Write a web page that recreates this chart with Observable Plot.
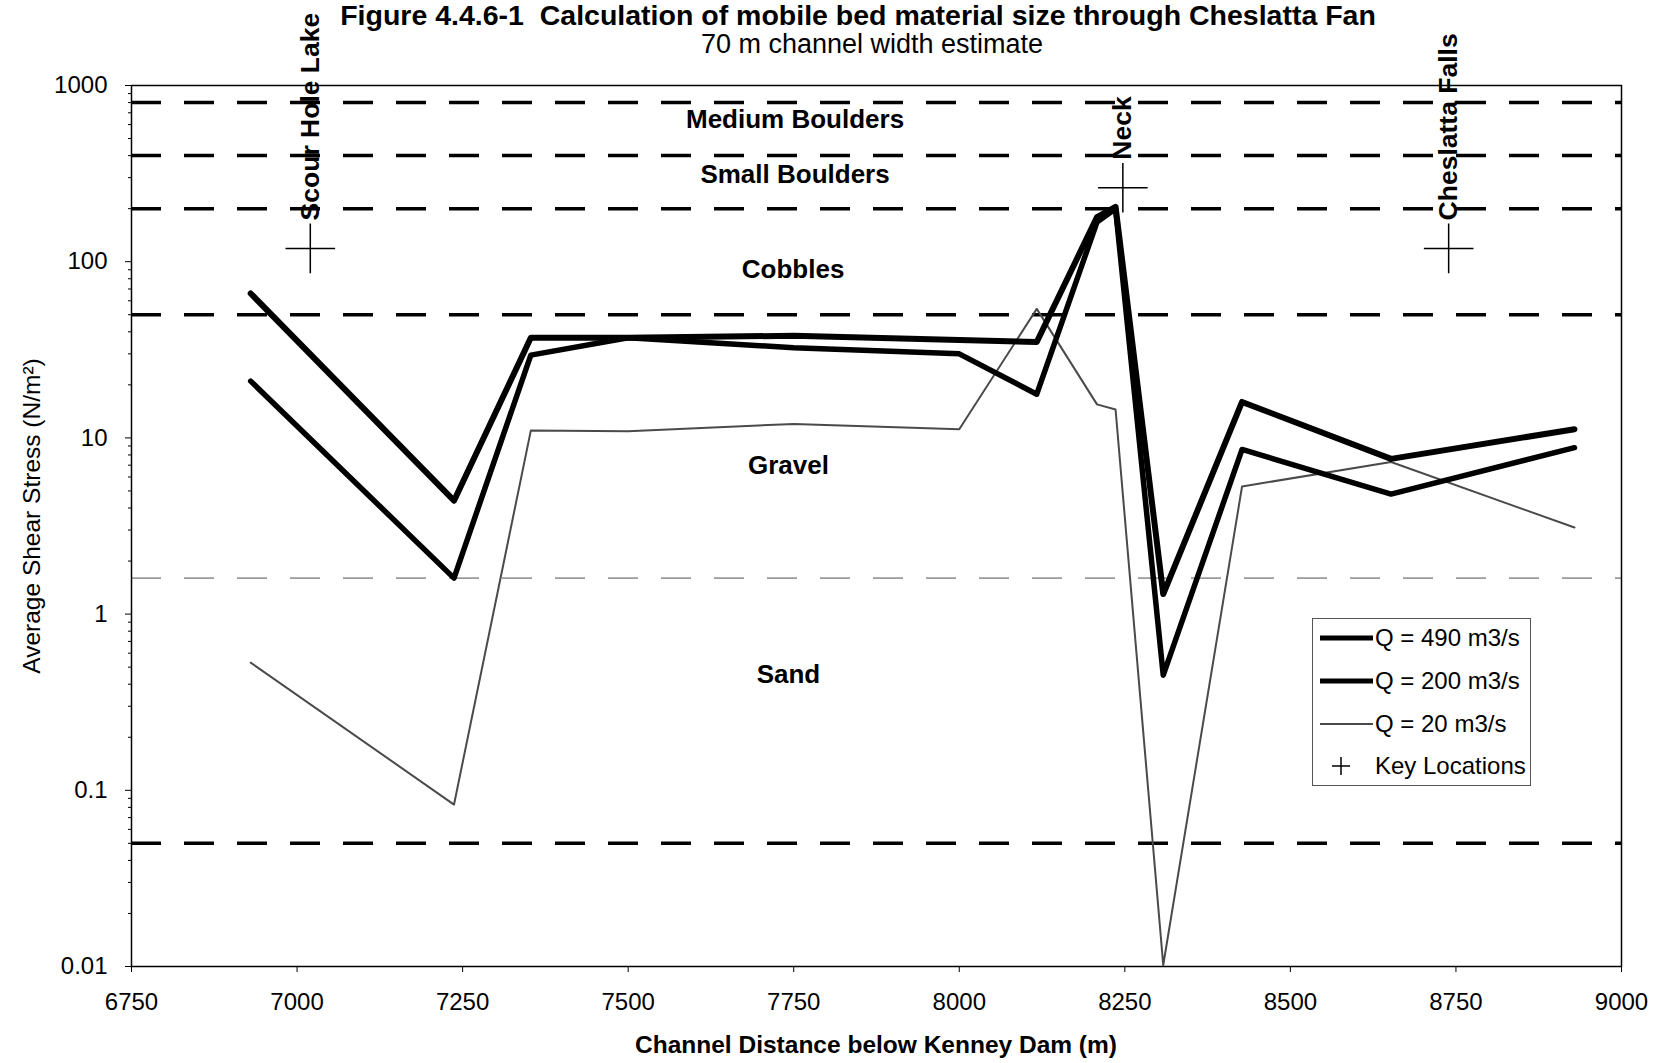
<!DOCTYPE html>
<html>
<head>
<meta charset="utf-8">
<script src="https://cdn.jsdelivr.net/npm/d3@7"></script>
<script src="https://cdn.jsdelivr.net/npm/@observablehq/plot@0.6"></script>
<style>
  html, body { margin: 0; padding: 0; background: #fff; }
  body { font-family: "Liberation Sans", Arial, sans-serif; color: #000; }
  #wrap { position: relative; width: 1670px; height: 1063px; overflow: hidden; }
  #chart { position: absolute; left: 0; top: 0; }
  .abs { position: absolute; white-space: pre; line-height: 1; }
  #legend { position: absolute; left: 1312px; top: 618px; width: 219px; height: 168px;
            border: 1px solid #555; background: #fff; box-sizing: border-box; }
  .lrow { position: absolute; left: 0; height: 30px; width: 219px; }
  .lrow svg { position: absolute; left: 0; top: 0; }
  .lrow span { position: absolute; left: 62px; top: 3px; font-size: 24px; line-height: 24px; white-space: nowrap; }
</style>
</head>
<body>
<div id="wrap">
  <div id="chart"></div>
  <div class="abs" id="title" style="left:858px; top:1px; transform:translateX(-50%); font-size:28.5px; font-weight:bold;"></div>
  <div class="abs" id="subtitle" style="left:872px; top:31px; transform:translateX(-50%); font-size:27px;"></div>
  <div class="abs" id="xtitle" style="left:876px; top:1033px; transform:translateX(-50%); font-size:24.5px; font-weight:bold;"></div>
  <div class="abs" id="ytitle" style="left:32px; top:516px; transform:translate(-50%,-50%) rotate(-90deg); font-size:24.5px;"></div>
  <div id="legend"></div>
</div>
<script>
// ---- Data ----
const titleText = "Figure 4.4.6-1  Calculation of mobile bed material size through Cheslatta Fan";
const subtitleText = "70 m channel width estimate";
const xTitle = "Channel Distance below Kenney Dam (m)";
const yTitle = "Average Shear Stress (N/m²)";

const distance = [6930, 7237, 7353, 7500, 7750, 8000, 8117, 8208, 8236, 8308, 8427, 8652, 8929];
const q490 = [66, 4.4, 37, 37, 38, 36, 35, 179, 205, 1.3, 16, 7.6, 11.2];
const q200 = [21, 1.6, 29.5, 37, 32.5, 30, 17.7, 168, 200, 0.45, 8.6, 4.8, 8.8];
const q20  = [0.53, 0.083, 11, 10.9, 12, 11.2, 54, 15.5, 14.5, 0.0102, 5.3, 7.3, 3.1];
const seriesNames = ["Q = 490 m3/s", "Q = 200 m3/s", "Q = 20 m3/s"];

const thresholds = [800, 400, 200, 50, 0.05];
const sandGravelLimit = [1.6];

const bandNames = ["Medium Boulders", "Small Boulders", "Cobbles", "Gravel", "Sand"];
const bandX = [7752, 7752, 7749, 7742, 7742];
const bandY = [640, 311, 90, 6.95, 0.454];

const keyNames = ["Scour Hole Lake", "Neck", "Cheslatta Falls"];
const keyX = [7020, 8247, 8739];
const keyY = [119, 263, 119];
const keyLegend = "Key Locations";

const xTicks = [6750, 7000, 7250, 7500, 7750, 8000, 8250, 8500, 8750, 9000];
const yTicks = [0.01, 0.1, 1, 10, 100, 1000];
const yTickLabels = ["0.01", "0.1", "1", "10", "100", "1000"];

// ---- Build tables ----
const seriesValues = [q490, q200, q20];
const series = seriesValues.map((vals, s) => distance.map((x, i) => ({x, y: vals[i], s: seriesNames[s]})));
const bands = bandNames.map((name, i) => ({name, x: bandX[i], y: bandY[i]}));
const keys = keyNames.map((name, i) => ({name, x: keyX[i], y: keyY[i]}));
const minorY = d3.scaleLog().domain([0.01, 1000]).ticks().filter(t => !yTicks.includes(t));

const dash = "30,23";
const chart = Plot.plot({
  width: 1670,
  height: 1063,
  marginLeft: 131,
  marginRight: 49,
  marginTop: 85,
  marginBottom: 97,
  style: {fontFamily: "'Liberation Sans', Arial, sans-serif", fontSize: "24px", background: "white", color: "black"},
  x: {domain: [6750, 9000]},
  y: {type: "log", domain: [0.01, 1000]},
  marks: [
    Plot.ruleY(thresholds, {stroke: "black", strokeWidth: 3.5, strokeDasharray: dash}),
    Plot.ruleY(sandGravelLimit, {stroke: "#9a9a9a", strokeWidth: 1.6, strokeDasharray: dash}),
    Plot.line(series[2], {x: "x", y: "y", stroke: "#4a4a4a", strokeWidth: 2}),
    Plot.line(series[1], {x: "x", y: "y", stroke: "black", strokeWidth: 5.5}),
    Plot.line(series[0], {x: "x", y: "y", stroke: "black", strokeWidth: 6}),
    Plot.text(bands, {x: "x", y: "y", text: "name", fontWeight: "bold", fontSize: 26}),
    Plot.dot(keys, {x: "x", y: "y", symbol: "plus", r: 16, stroke: "black", strokeWidth: 1.5}),
    Plot.text(keys, {x: "x", y: "y", text: "name", rotate: -90, textAnchor: "start", lineAnchor: "middle", dy: -28, fontWeight: "bold", fontSize: 26.5}),
    Plot.frame({stroke: "black", strokeWidth: 1.5}),
    Plot.axisX({ticks: xTicks, tickFormat: d => String(d), tickSize: 6, tickPadding: 20, label: null}),
    Plot.axisY({ticks: yTicks, tickFormat: d => yTickLabels[yTicks.indexOf(d)], tickSize: 6, tickPadding: 18, label: null}),
    Plot.axisY({ticks: minorY, tickFormat: () => "", tickSize: 3, label: null, strokeWidth: 1})
  ]
});
document.getElementById("chart").appendChild(chart);

document.getElementById("title").textContent = titleText;
document.getElementById("subtitle").textContent = subtitleText;
document.getElementById("xtitle").textContent = xTitle;
document.getElementById("ytitle").textContent = yTitle;

// ---- Legend ----
const legend = document.getElementById("legend");
const rowTops = [4, 47, 90, 132];
const widths = [5, 5, 2];
seriesNames.forEach((name, i) => {
  const row = document.createElement("div");
  row.className = "lrow";
  row.style.top = rowTops[i] + "px";
  row.innerHTML = `<svg width="62" height="30"><line x1="7" x2="60" y1="15" y2="15" stroke="${i === 2 ? '#4a4a4a' : 'black'}" stroke-width="${widths[i]}"/></svg><span>${name}</span>`;
  legend.appendChild(row);
});
const krow = document.createElement("div");
krow.className = "lrow";
krow.style.top = rowTops[3] + "px";
krow.innerHTML = `<svg width="62" height="30"><path d="M28,6V24M19,15H37" stroke="black" stroke-width="1.5" fill="none"/></svg><span>${keyLegend}</span>`;
legend.appendChild(krow);
</script>
</body>
</html>
